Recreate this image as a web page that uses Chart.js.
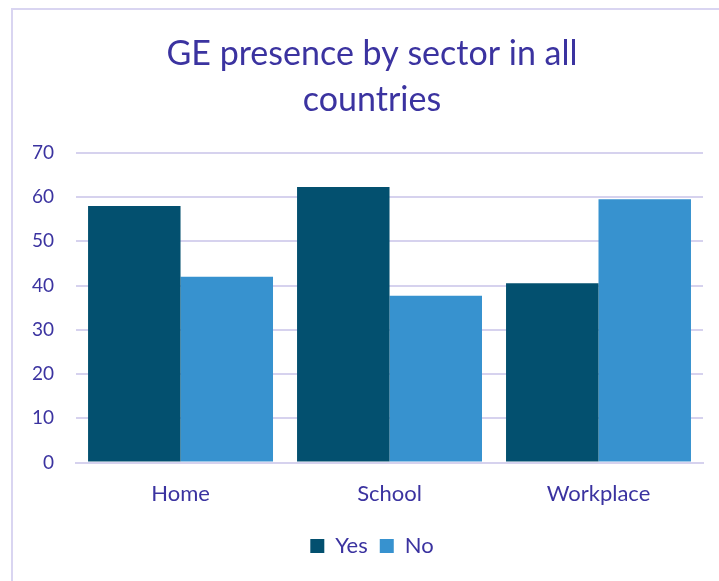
<!DOCTYPE html>
<html>
<head>
<meta charset="utf-8">
<script src="https://cdn.jsdelivr.net/npm/chart.js@4"></script>
<style>
body { margin: 0; background: #fff; overflow: hidden; }
#frame {
  position: absolute; left: 11px; top: 8px;
  width: 722px; height: 590px;
  border: 2px solid #d9d5f1; box-sizing: border-box;
}
#box { position: absolute; left: 0; top: 0; width: 724px; height: 573px; }
</style>
</head>
<body>
<div id="frame"><div id="box"><canvas id="chart"></canvas></div></div>
<script>
const sectors = ["Home", "School", "Workplace"];
const yesValues = [58, 62.3, 40.5];
const noValues = [42, 37.7, 59.5];
const yTicks = [0, 10, 20, 30, 40, 50, 60, 70];

const textColor = '#3b33a0';
const fontName = "Lato, 'Open Sans', sans-serif";

const ctx = document.getElementById('chart').getContext('2d');
const myChart = new Chart(ctx, {
  type: 'bar',
  data: {
    labels: sectors,
    datasets: [{
      label: 'Yes',
      data: yesValues,
      backgroundColor: '#03506f',
      borderWidth: 0
    }, {
      label: 'No',
      data: noValues,
      backgroundColor: '#3792cf',
      borderWidth: 0
    }]
  },
  options: {
    responsive: true,
    maintainAspectRatio: false,
    animation: false,
    layout: { padding: { left: -3, right: 3, top: 7, bottom: 16 } },
    datasets: { bar: { categoryPercentage: 0.885, barPercentage: 1 } },
    plugins: {
      title: {
        display: true,
        text: ['GE presence by sector in all', 'countries'],
        color: textColor,
        font: { family: fontName, size: 34, weight: 'normal', lineHeight: 1.35 },
        padding: { top: 14, bottom: 30 }
      },
      legend: {
        position: 'bottom',
        labels: {
          color: textColor,
          font: { family: fontName, size: 22 },
          boxWidth: 14, boxHeight: 14,
          padding: 12
        }
      },
      tooltip: { enabled: false }
    },
    scales: {
      x: {
        grid: { display: false },
        border: { color: '#d6d2ee', width: 2 },
        ticks: { color: textColor, font: { family: fontName, size: 22 }, padding: 10 },
        // extra room under the labels, like the gap before the legend
        afterFit: axis => { axis.height += 6; }
      },
      y: {
        min: 0, max: 70,
        afterBuildTicks: axis => { axis.ticks = yTicks.map(v => ({ value: v })); },
        grid: { color: '#d6d2ee', lineWidth: 2, drawTicks: false },
        border: { display: false },
        ticks: { color: textColor, font: { family: fontName, size: 19 }, padding: 22 }
      },
      // hidden right axis, keeps the title and legend centred like the original
      y2: {
        position: 'right',
        min: 0, max: 70,
        grid: { display: false },
        border: { display: false },
        ticks: { display: false },
        afterFit: axis => { axis.width = 31; }
      }
    }
  }
});
</script>
</body>
</html>
